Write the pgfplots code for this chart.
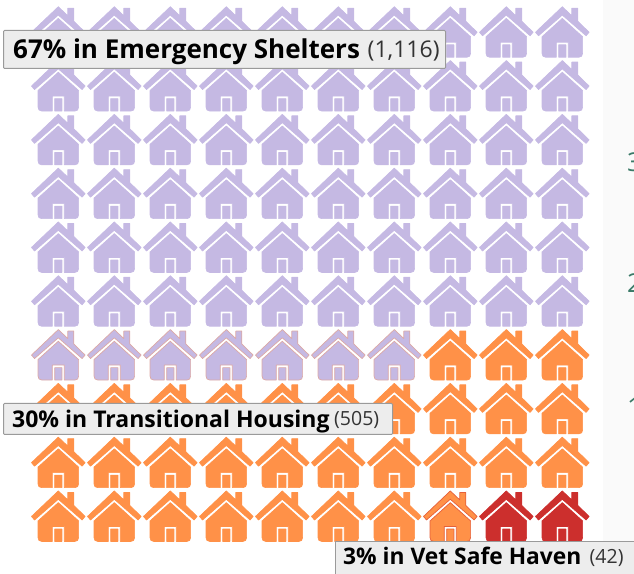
\documentclass[border=0pt]{standalone}
\usepackage{fontspec}
\setmainfont{Open Sans}
\usepackage{pgfplots}
\pgfplotsset{compat=1.18}

\definecolor{shelter}{HTML}{C5B9E3}
\definecolor{transit}{HTML}{FF9148}
\definecolor{safehaven}{HTML}{CC2F2D}
\definecolor{boxfill}{HTML}{EDEDED}
\definecolor{boxline}{HTML}{9A9A9A}
\definecolor{sidetext}{HTML}{3B7A68}

% house icon, coordinates in px down from the roof peak
\newcommand{\hp}[2]{\pgfpoint{#1pt}{#2pt+25.75pt}}
\pgfdeclareplotmark{house}{%
  \pgfsetroundjoin
  \pgfsetlinewidth{0.7pt}%
  % roof
  \pgfpathmoveto{\hp{0}{-0.5}}%
  \pgfpathlineto{\hp{9.5}{-9.5}}%
  \pgfpathlineto{\hp{9.5}{-2}}%
  \pgfpathlineto{\hp{15.5}{-2}}%
  \pgfpathlineto{\hp{15.5}{-15}}%
  \pgfpathlineto{\hp{26.8}{-26}}%
  \pgfpathlineto{\hp{23.8}{-29.5}}%
  \pgfpathlineto{\hp{0}{-8.8}}%
  \pgfpathlineto{\hp{-23.8}{-29.5}}%
  \pgfpathlineto{\hp{-26.8}{-26}}%
  \pgfpathclose
  % body with the door cut out
  \pgfpathmoveto{\hp{0}{-12.2}}%
  \pgfpathlineto{\hp{20.3}{-30.5}}%
  \pgfpathlineto{\hp{20.3}{-47}}%
  \pgfpathcurveto{\hp{20.3}{-49.5}}{\hp{19}{-51}}{\hp{16.5}{-51}}%
  \pgfpathlineto{\hp{6}{-51}}%
  \pgfpathlineto{\hp{6}{-36}}%
  \pgfpathlineto{\hp{-6}{-36}}%
  \pgfpathlineto{\hp{-6}{-51}}%
  \pgfpathlineto{\hp{-16.5}{-51}}%
  \pgfpathcurveto{\hp{-19}{-51}}{\hp{-20.3}{-49.5}}{\hp{-20.3}{-47}}%
  \pgfpathlineto{\hp{-20.3}{-30.5}}%
  \pgfpathclose
  % door
  \pgfpathmoveto{\hp{-3.6}{-38.6}}%
  \pgfpathlineto{\hp{3.6}{-38.6}}%
  \pgfpathlineto{\hp{3.6}{-51}}%
  \pgfpathlineto{\hp{-3.6}{-51}}%
  \pgfpathclose
  \pgfusepathqfillstroke
}

\begin{document}
\begin{tikzpicture}
\useasboundingbox (0,0) rectangle (634pt,573pt);
\fill[black!2] (603pt,0) rectangle (634pt,573pt);
\begin{axis}[
  at={(0,0)}, anchor=south west,
  scale only axis, width=634pt, height=573pt,
  hide axis, clip=false,
  xmin=-0.0411, xmax=11.2804,
  ymin=-0.0558, ymax=10.5948,
]
% emergency shelters: rows from the top, col,row with row 1 at the bottom
\addplot[only marks, mark=house, mark options={fill=shelter,draw=shelter}] coordinates {
(1,10)(2,10)(3,10)(4,10)(5,10)(6,10)(7,10)(8,10)(9,10)(10,10)
(1,9)(2,9)(3,9)(4,9)(5,9)(6,9)(7,9)(8,9)(9,9)(10,9)
(1,8)(2,8)(3,8)(4,8)(5,8)(6,8)(7,8)(8,8)(9,8)(10,8)
(1,7)(2,7)(3,7)(4,7)(5,7)(6,7)(7,7)(8,7)(9,7)(10,7)
(1,6)(2,6)(3,6)(4,6)(5,6)(6,6)(7,6)(8,6)(9,6)(10,6)
(1,5)(2,5)(3,5)(4,5)(5,5)(6,5)(7,5)(8,5)(9,5)(10,5)
};
% these seven have a thin orange rim
\addplot[only marks, mark=house, mark options={fill=shelter,draw=transit!40!shelter}] coordinates {
(1,4)(2,4)(3,4)(4,4)(5,4)(6,4)(7,4)
};
% transitional housing
\addplot[only marks, mark=house, mark options={fill=transit,draw=transit}] coordinates {
(8,4)(9,4)(10,4)
(1,3)(2,3)(3,3)(4,3)(5,3)(6,3)(7,3)(8,3)(9,3)(10,3)
(1,2)(2,2)(3,2)(4,2)(5,2)(6,2)(7,2)(8,2)(9,2)(10,2)
(1,1)(2,1)(3,1)(4,1)(5,1)(6,1)(7,1)
};
\addplot[only marks, mark=house, mark options={fill=transit,draw=safehaven!50!transit}] coordinates {(8,1)};
% vet safe haven
\addplot[only marks, mark=house, mark options={fill=safehaven,draw=safehaven}] coordinates {(9,1)(10,1)};
\end{axis}
% annotations, coordinates in px from the top left
\begin{scope}[shift={(0,573pt)}, x=1pt, y=-1pt]
  \node[anchor=base west, text=sidetext, inner sep=0, font=\fontsize{26}{26}\selectfont] at (627,172) {3};
  \node[anchor=base west, text=sidetext, inner sep=0, font=\fontsize{26}{26}\selectfont] at (627,293) {2};
  \node[anchor=base west, text=sidetext, inner sep=0, font=\fontsize{26}{26}\selectfont] at (627,417) {1};

  \filldraw[fill=boxfill, draw=boxline, line width=1pt, rounded corners=1pt] (3.5,30.5) rectangle (445.5,68.5);
  \node[anchor=base west, inner sep=0, font=\fontsize{26}{26}\selectfont\bfseries] at (13,59) {67\% in Emergency Shelters};
  \node[anchor=base west, inner sep=0, text=black!80, font=\fontsize{23}{23}\selectfont] at (367.5,58) {(1,116)};

  \filldraw[fill=boxfill, draw=boxline, line width=1pt, rounded corners=1pt] (3.5,403.5) rectangle (392.5,434.5);
  \node[anchor=base west, inner sep=0, font=\fontsize{23}{23}\selectfont\bfseries] at (12,427) {30\% in Transitional Housing};
  \node[anchor=base west, inner sep=0, text=black!80, font=\fontsize{19.5}{20}\selectfont] at (334,426) {(505)};

  \filldraw[fill=boxfill, draw=boxline, line width=1pt] (335,580) rectangle (640,541.5);
  \node[anchor=base west, inner sep=0, font=\fontsize{22.8}{23}\selectfont\bfseries] at (343,564) {3\% in Vet Safe Haven};
  \node[anchor=base west, inner sep=0, text=black!80, font=\fontsize{19.5}{20}\selectfont] at (589.5,563) {(42)};
\end{scope}
\end{tikzpicture}
\end{document}
